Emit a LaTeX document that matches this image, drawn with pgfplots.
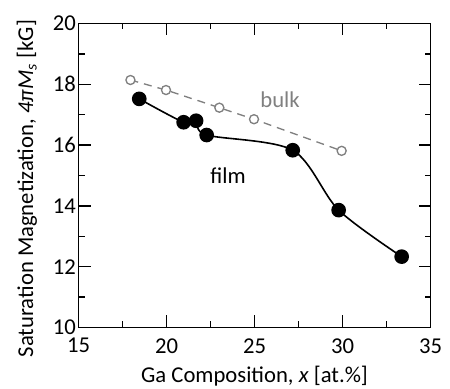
\documentclass[border=0pt]{standalone}
\usepackage{fontspec}
\setmainfont{Carlito}
\usepackage{pgfplots}
\pgfplotsset{compat=1.18}
\definecolor{bulkgray}{RGB}{128,128,128}
\begin{document}
\begin{tikzpicture}
\begin{axis}[
  width=264pt, height=228pt, scale only axis,
  xmin=15, xmax=35, ymin=10, ymax=20,
  xtick={15,20,...,35}, ytick={10,12,...,20},
  minor x tick num=1, minor y tick num=1,
  tick align=inside, tick pos=both,
  major tick length=9pt, minor tick length=4.5pt,
  axis line style={line width=1.1pt},
  every tick/.style={line width=1.1pt, black},
  /pgf/number format/assume math mode=true,
  ticklabel style={font=\fontsize{17}{20}\selectfont},
  yticklabel style={xshift=1.6pt},
  xticklabel style={yshift=-4.6pt},
  label style={font=\fontsize{17}{20}\selectfont},
  xlabel={Ga Composition, \textit{x} [at.\%]},
  ylabel={Saturation Magnetization, \textit{4πM}\textsubscript{\textit{s}} [kG]},
  xlabel style={at={(axis description cs:0.5,0)}, anchor=base, yshift=-41.5pt},
  ylabel style={at={(axis description cs:-0.129,0.457)}, anchor=base},
  clip=false,
]
\addplot[bulkgray, line width=1pt, dash pattern=on 6pt off 4.5pt,
  mark=*, mark options={solid, fill=white, draw=bulkgray, line width=1pt}, mark size=3.4pt]
  coordinates {(17.95,18.14) (19.97,17.81) (23.0,17.23) (24.97,16.85) (29.95,15.81)};
\addplot[black, line width=1.2pt, smooth, tension=0.5,
  mark=*, mark options={fill=black}, mark size=4.9pt]
  coordinates {(18.45,17.52) (20.97,16.75) (21.68,16.80) (22.28,16.33) (27.17,15.83) (29.78,13.86) (33.36,12.33)};
\node[text=bulkgray, font=\fontsize{17}{20}\selectfont] at (axis cs:26.45,17.5) {bulk};
\node[text=black, font=\fontsize{17}{20}\selectfont] at (axis cs:23.5,15.0) {film};
\end{axis}
\pgfresetboundingbox
\path ([shift={(-58.9pt,-46pt)}]current axis.south west) rectangle ([shift={(14.6pt,17.6pt)}]current axis.north east);
\end{tikzpicture}
\end{document}
